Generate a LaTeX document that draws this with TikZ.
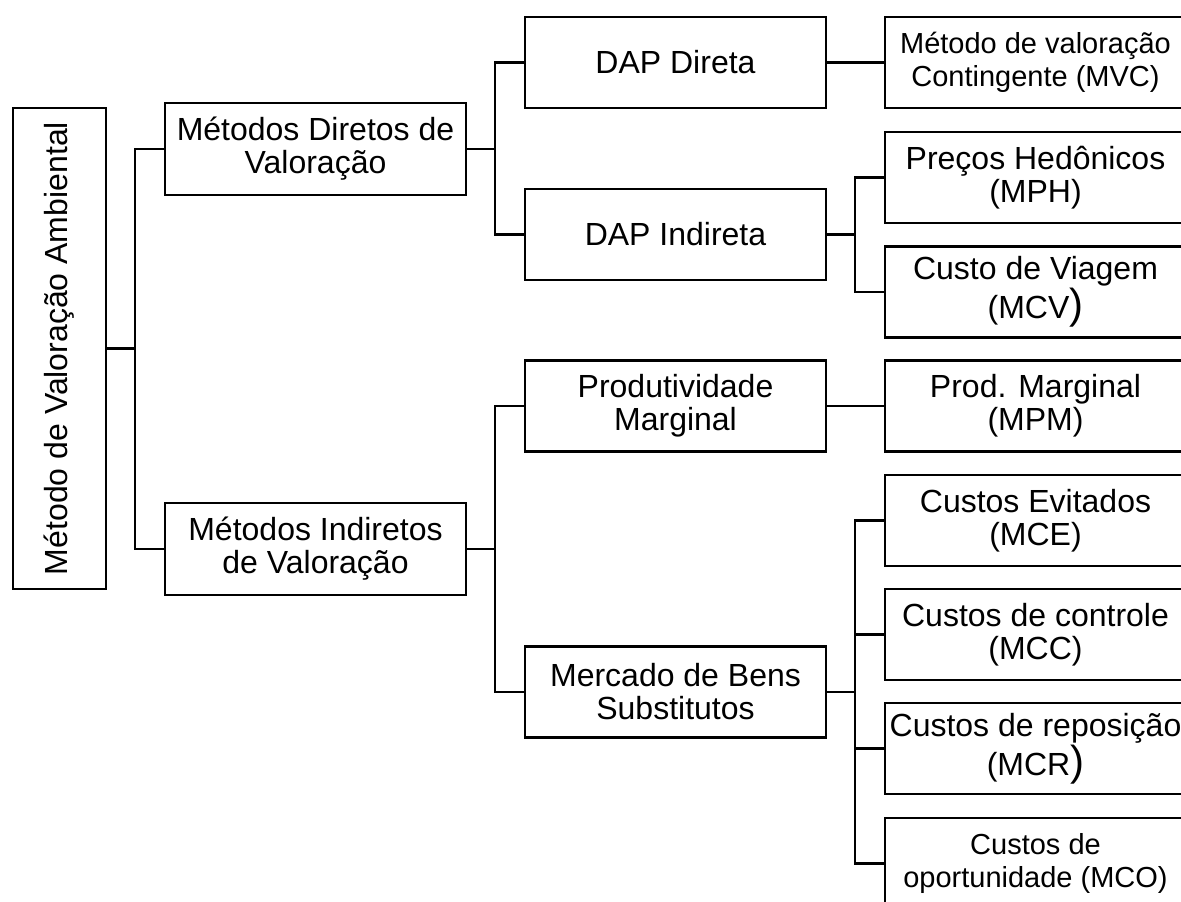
\documentclass[tikz,border=0pt]{standalone}
\usepackage{fontspec}
\setmainfont{Liberation Sans}
\usepackage{graphicx}
\newcommand{\parbig}{{\fontsize{21}{16.5}\selectfont)}}
\begin{document}
\begin{tikzpicture}[x=0.5pt, y=-0.5pt, line width=1.3pt,
  caixa/.style={draw, line width=1.3pt, minimum width=150.5pt, minimum height=45.5pt, inner sep=0pt, align=center, font=\fontsize{16}{16.5}\selectfont},
  caixap/.style={caixa, font=\fontsize{14.5}{16.5}\selectfont}]
\useasboundingbox (0,0) rectangle (1181,901);
\node[draw, minimum width=46.5pt, minimum height=240.5pt, inner sep=0pt, font=\fontsize{16}{16.5}\selectfont] (raiz) at (59.5,348.5) {\rotatebox{90}{Método de Valoração Ambiental}};
\node[caixa, minimum height=46pt] (diretos) at (315.5,149) {Métodos Diretos de\\Valoração};
\node[caixa, minimum height=46pt] (indiretos) at (315.5,549) {Métodos Indiretos\\de Valoração};
\node[caixa] (dapdir) at (675.5,62.5) {DAP Direta};
\node[caixa] (dapind) at (675.5,234.5) {DAP Indireta};
\node[caixa] (produt) at (675.5,406) {Produtividade\\Marginal};
\node[caixa] (mercado) at (675.5,692) {Mercado de Bens\\Substitutos};
\node[caixap] (mvc) at (1035.5,62.5) {Método de valoração\\Contingente (MVC)};
\node[caixa] (mph) at (1035.5,177.5) {Preços Hedônicos\\(MPH)};
\node[caixa] (mcv) at (1035.5,292) {Custo de Viagem\\(MCV\parbig};
\node[caixa] (mpm) at (1035.5,406) {Prod. Marginal\\(MPM)};
\node[caixa] (mce) at (1035.5,520.5) {Custos Evitados\\(MCE)};
\node[caixa] (mcc) at (1035.5,634.5) {Custos de controle\\(MCC)};
\node[caixa] (mcr) at (1035.5,748.5) {Custos de reposição\\(MCR\parbig};
\node[caixap] (mco) at (1035.5,863.5) {Custos de\\oportunidade (MCO)};
\coordinate (b1) at (135,348.5); \coordinate (b2) at (495,149); \coordinate (b3) at (495,549);
\coordinate (b4) at (855,234.5); \coordinate (b5) at (855,692);
\draw (raiz.east) -- (b1); \draw (diretos.west) -| (b1); \draw (indiretos.west) -| (b1);
\draw (diretos.east) -- (b2); \draw (dapdir.west) -| (b2); \draw (dapind.west) -| (b2);
\draw (indiretos.east) -- (b3); \draw (produt.west) -| (b3); \draw (mercado.west) -| (b3);
\draw (dapdir.east) -- (mvc.west);
\draw (dapind.east) -- (b4); \draw (mph.west) -| (b4); \draw (mcv.west) -| (b4);
\draw (produt.east) -- (mpm.west);
\draw (mercado.east) -- (b5); \draw (mce.west) -| (b5); \draw (mcc.west) -| (b5); \draw (mcr.west) -| (b5); \draw (mco.west) -| (b5);
\end{tikzpicture}
\end{document}
